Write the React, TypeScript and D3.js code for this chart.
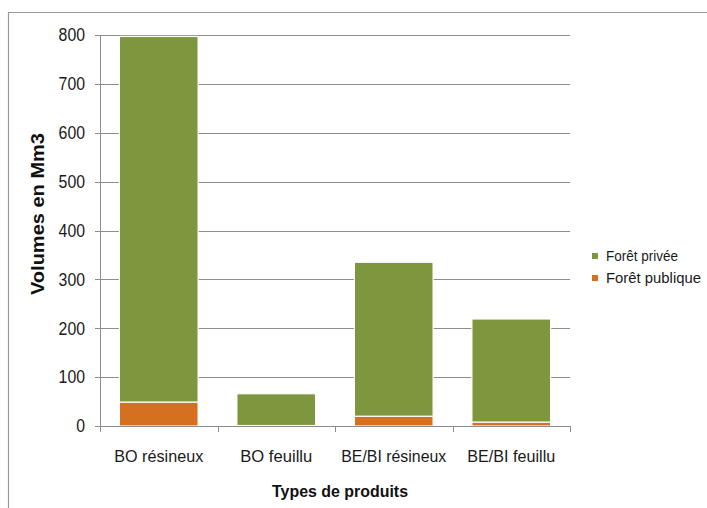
import React, { useEffect, useRef } from 'react';
import * as d3 from 'd3';

const categories = ['BO résineux', 'BO feuillu', 'BE/BI résineux', 'BE/BI feuillu'];
const seriesNames = ['Forêt publique', 'Forêt privée'];
const publicValues = [49, 1, 20, 8];
const privateValues = [748, 65, 315, 211];
const yTicks = [0, 100, 200, 300, 400, 500, 600, 700, 800];

const GREEN = '#7e973f';
const ORANGE = '#d4701f';

export default function App() {
  const svgRef = useRef<SVGSVGElement>(null);

  useEffect(() => {
    if (!svgRef.current) return;
    const width = 707;
    const height = 508;
    const svg = d3.select(svgRef.current).attr('width', width).attr('height', height);
    svg.selectAll('*').remove();

    const font = 'Liberation Sans, Arial, sans-serif';
    const left = 100, right = 570, top = 35, bottom = 426;

    // outer frame, runs off the right and bottom edge
    svg.append('path')
      .attr('d', `M8.5,${height + 2} L8.5,12.5 L${width + 2},12.5`)
      .attr('fill', 'none')
      .attr('stroke', '#9a9a9a')
      .attr('stroke-width', 1.2);

    const x = d3.scaleBand<string>().domain(categories).range([left, right]).paddingInner(0.33).paddingOuter(0.165);
    const y = d3.scaleLinear().domain([0, 800]).range([bottom, top]);

    // gridlines
    svg.append('g').selectAll('line')
      .data(yTicks.filter(t => t > 0))
      .enter().append('line')
      .attr('x1', left).attr('x2', right)
      .attr('y1', d => Math.round(y(d)) + 0.5).attr('y2', d => Math.round(y(d)) + 0.5)
      .attr('stroke', '#8c8c8c').attr('stroke-width', 1);

    // stacked bars
    const rows = categories.map((c, i) => ({ cat: c, pub: publicValues[i], priv: privateValues[i] }));
    const stack = d3.stack<typeof rows[number]>().keys(['pub', 'priv'])(rows);
    const colors = [ORANGE, GREEN];
    stack.forEach((layer, li) => {
      svg.append('g').selectAll('rect')
        .data(layer)
        .enter().append('rect')
        .attr('x', d => x(d.data.cat)!)
        .attr('width', x.bandwidth())
        .attr('y', d => y(d[1]))
        .attr('height', d => Math.max(0, y(d[0]) - y(d[1])))
        .attr('fill', colors[li])
        .attr('stroke', '#ffffff')
        .attr('stroke-width', 1.2);
    });

    // y axis
    const ya = svg.append('g');
    ya.append('line').attr('x1', left + 0.5).attr('x2', left + 0.5).attr('y1', top).attr('y2', bottom)
      .attr('stroke', '#8c8c8c');
    ya.selectAll('line.tick').data(yTicks).enter().append('line')
      .attr('class', 'tick')
      .attr('x1', left - 5).attr('x2', left)
      .attr('y1', d => Math.round(y(d)) + 0.5).attr('y2', d => Math.round(y(d)) + 0.5)
      .attr('stroke', '#8c8c8c');
    ya.selectAll('text').data(yTicks).enter().append('text')
      .attr('x', 85).attr('y', d => y(d) + 6.3)
      .attr('text-anchor', 'end')
      .attr('textLength', d => String(d).length * 8.8)
      .attr('lengthAdjust', 'spacingAndGlyphs')
      .style('font-family', font).style('font-size', '17.5px').attr('fill', '#1a1a1a')
      .text(d => d);

    // x axis
    const xa = svg.append('g');
    xa.append('line').attr('x1', left).attr('x2', right).attr('y1', bottom + 0.5).attr('y2', bottom + 0.5)
      .attr('stroke', '#8c8c8c');
    const bounds = d3.range(categories.length + 1).map(i => left + (i * (right - left)) / categories.length);
    xa.selectAll('line.tick').data(bounds).enter().append('line')
      .attr('class', 'tick')
      .attr('x1', d => Math.round(d) + 0.5).attr('x2', d => Math.round(d) + 0.5)
      .attr('y1', bottom).attr('y2', bottom + 6)
      .attr('stroke', '#8c8c8c');
    const catWidths = [89, 72, 105, 88];
    xa.selectAll('text').data(categories).enter().append('text')
      .attr('x', d => x(d)! + x.bandwidth() / 2)
      .attr('y', 462)
      .attr('text-anchor', 'middle')
      .attr('textLength', (d, i) => catWidths[i])
      .attr('lengthAdjust', 'spacingAndGlyphs')
      .style('font-family', font).style('font-size', '17px').attr('fill', '#1a1a1a')
      .text(d => d);

    // axis titles
    svg.append('text')
      .attr('x', 340).attr('y', 497)
      .attr('text-anchor', 'middle')
      .attr('textLength', 136)
      .attr('lengthAdjust', 'spacingAndGlyphs')
      .style('font-family', font).style('font-size', '17px').style('font-weight', 'bold')
      .attr('fill', '#111')
      .text('Types de produits');
    svg.append('text')
      .attr('transform', 'translate(44,214) rotate(-90)')
      .attr('text-anchor', 'middle')
      .attr('textLength', 162)
      .attr('lengthAdjust', 'spacingAndGlyphs')
      .style('font-family', font).style('font-size', '18px').style('font-weight', 'bold')
      .attr('fill', '#111')
      .text('Volumes en Mm3');

    // legend, private on top
    const legend = svg.append('g');
    const legendItems = [
      { name: seriesNames[1], color: GREEN, w: 72 },
      { name: seriesNames[0], color: ORANGE, w: 95 },
    ];
    legendItems.forEach((it, i) => {
      const base = 261 + i * 22;
      legend.append('rect').attr('x', 592).attr('y', base - 8).attr('width', 6).attr('height', 6).attr('fill', it.color);
      legend.append('text').attr('x', 606).attr('y', base)
        .attr('textLength', it.w)
        .attr('lengthAdjust', 'spacingAndGlyphs')
        .style('font-family', font).style('font-size', '14px').attr('fill', '#1a1a1a')
        .text(it.name);
    });
  }, []);

  return (
    <div style={{ position: 'absolute', left: 0, top: 0, width: 707, height: 508, background: '#fff' }}>
      <svg ref={svgRef} style={{ display: 'block' }}></svg>
    </div>
  );
}
